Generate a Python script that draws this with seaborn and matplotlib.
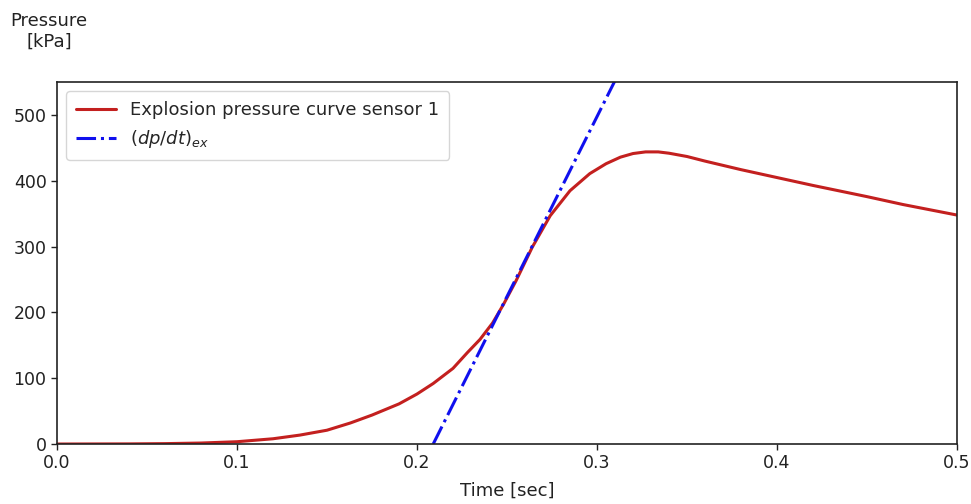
import numpy as np
import pandas as pd
import matplotlib
matplotlib.use("Agg")
import matplotlib.pyplot as plt
import seaborn as sns

# info: pressure curve
time_s = [0.0, 0.04, 0.06, 0.08, 0.10, 0.12, 0.135, 0.15, 0.163, 0.175,
          0.19, 0.20, 0.209, 0.22, 0.228, 0.235, 0.242, 0.248, 0.255, 0.264,
          0.274, 0.285, 0.296, 0.305, 0.313, 0.32, 0.327, 0.334, 0.34, 0.35,
          0.36, 0.38, 0.40, 0.42, 0.45, 0.47, 0.50]
pressure_kpa = [0.0, 0.2, 0.6, 1.5, 3.5, 8, 13.6, 21, 32, 44,
                61, 76, 92, 115, 139, 159, 184, 212, 248, 299,
                347, 385, 411, 426, 436, 441.5, 444, 444, 442, 437,
                430, 417, 405, 393, 376, 364, 348]

# info: tangent (dp/dt)_ex, two end points
tangent_t = [0.209, 0.32]
tangent_p = [0.0, 607.0]

sns.set_style("ticks")
plt.rcParams["font.family"] = ["DejaVu Sans"]

fig = plt.figure(figsize=(9.71, 5.04), dpi=100)
ax = fig.add_axes([0.0587, 0.119, 0.9269, 0.718])

df_p = pd.DataFrame({"t": time_s, "p": pressure_kpa})
df_t = pd.DataFrame({"t": tangent_t, "p": tangent_p})

sns.lineplot(data=df_p, x="t", y="p", ax=ax, color="#c3201f", lw=2.2,
             label="Explosion pressure curve sensor 1")
sns.lineplot(data=df_t, x="t", y="p", ax=ax, color="#1010ee", lw=2.2,
             linestyle="-.", label=r"$(dp/dt)_{ex}$")

ax.set_xlim(0, 0.5)
ax.set_ylim(0, 550)
ax.set_xticks([0.0, 0.1, 0.2, 0.3, 0.4, 0.5])
ax.set_yticks([0, 100, 200, 300, 400, 500])
ax.tick_params(labelsize=12.5, length=4, width=1, colors="#222222")
for sp in ax.spines.values():
    sp.set_linewidth(1.2)
    sp.set_color("#222222")

ax.set_xlabel("Time [sec]", fontsize=13, color="#222222", labelpad=7)
ax.set_ylabel("")
fig.text(49 / 971, 1 - 31 / 504, "Pressure\n[kPa]", ha="center", va="center",
         multialignment="center", fontsize=13, color="#222222")

ax.legend(loc="upper left", fontsize=13, frameon=True, handlelength=2.2,
          borderpad=0.55)

fig.savefig("out.png", dpi=100)
